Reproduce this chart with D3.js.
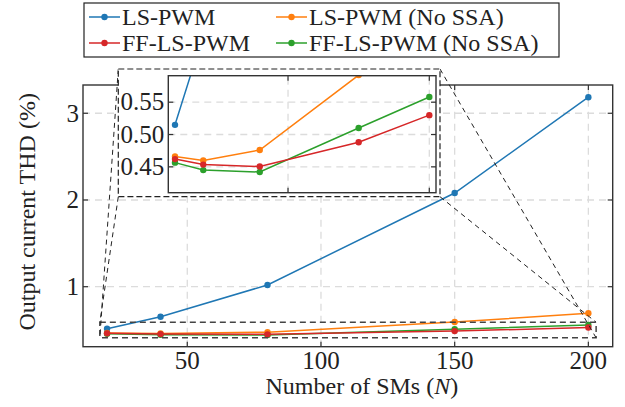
<!DOCTYPE html>
<html>
<head>
<meta charset="utf-8">
<script src="https://cdn.jsdelivr.net/npm/d3@7"></script>
<style>
    body { margin: 0; background: #fff; }
    svg text { font-family: 'Liberation Serif', serif; fill: #222; }
</style>
</head>
<body>
<div id="chart"></div>
<script>

// number of SMs
var smCounts = [20, 40, 80, 150, 200];

// THD (%) per method
var lsPwm = [0.515, 0.654, 1.02, 2.08, 3.185];
var lsPwmNoSsa = [0.466, 0.460, 0.476, 0.592, 0.693];
var ffLsPwm = [0.462, 0.4535, 0.4505, 0.488, 0.530];
var ffLsPwmNoSsa = [0.4565, 0.445, 0.442, 0.510, 0.558];

var seriesNames = ["LS-PWM", "LS-PWM (No SSA)", "FF-LS-PWM", "FF-LS-PWM (No SSA)"];
var seriesColors = ["#1f77b4", "#ff7f0e", "#d62728", "#2ca02c"];

var xTicks = [50, 100, 150, 200];
var yTicks = [1, 2, 3];
var insetXTicks = [100, 200];
var insetYTicks = [0.45, 0.50, 0.55];

var series = [
    {name: seriesNames[0], color: seriesColors[0], values: lsPwm},
    {name: seriesNames[1], color: seriesColors[1], values: lsPwmNoSsa},
    {name: seriesNames[3], color: seriesColors[3], values: ffLsPwmNoSsa},
    {name: seriesNames[2], color: seriesColors[2], values: ffLsPwm}
];

var svg = d3.select("#chart").append("svg")
    .attr("width", 625)
    .attr("height", 407)
    .attr("font-family", "Liberation Serif");

var axisColor = "#333";
var gridColor = "#dcdcdc";
var tickFont = "25px";
var labelFont = "24px";

// draws one set of axes (main or inset)
function drawAxes(g, x, y, xt, yt, showXLabels, fmt) {
    var x0 = x.range()[0], x1 = x.range()[1];
    var y0 = y.range()[0], y1 = y.range()[1];

    // dashed grid
    g.selectAll(".gx").data(xt).enter().append("line")
        .attr("x1", function (d) { return x(d); })
        .attr("x2", function (d) { return x(d); })
        .attr("y1", y0).attr("y2", y1)
        .attr("stroke", gridColor).attr("stroke-width", 1.3)
        .attr("stroke-dasharray", "7,5");
    g.selectAll(".gy").data(yt).enter().append("line")
        .attr("y1", function (d) { return y(d); })
        .attr("y2", function (d) { return y(d); })
        .attr("x1", x0).attr("x2", x1)
        .attr("stroke", gridColor).attr("stroke-width", 1.3)
        .attr("stroke-dasharray", "7,5");

    // inward ticks on all sides
    xt.forEach(function (d) {
        g.append("line").attr("x1", x(d)).attr("x2", x(d)).attr("y1", y0).attr("y2", y0 - 5)
            .attr("stroke", axisColor).attr("stroke-width", 1.2);
        g.append("line").attr("x1", x(d)).attr("x2", x(d)).attr("y1", y1).attr("y2", y1 + 5)
            .attr("stroke", axisColor).attr("stroke-width", 1.2);
    });
    yt.forEach(function (d) {
        g.append("line").attr("y1", y(d)).attr("y2", y(d)).attr("x1", x0).attr("x2", x0 + 5)
            .attr("stroke", axisColor).attr("stroke-width", 1.2);
        g.append("line").attr("y1", y(d)).attr("y2", y(d)).attr("x1", x1).attr("x2", x1 - 5)
            .attr("stroke", axisColor).attr("stroke-width", 1.2);
    });

    // tick labels
    g.selectAll(".ly").data(yt).enter().append("text")
        .attr("x", x0 - 4)
        .attr("y", function (d) { return y(d); })
        .attr("dy", "0.33em")
        .attr("text-anchor", "end")
        .style("font-size", tickFont)
        .text(fmt);
    if (showXLabels) {
        g.selectAll(".lx").data(xt).enter().append("text")
            .attr("x", function (d) { return x(d); })
            .attr("y", y0 + 22)
            .attr("text-anchor", "middle")
            .style("font-size", tickFont)
            .text(function (d) { return d; });
    }
}

function drawSeries(g, x, y, clipId) {
    var line = d3.line()
        .x(function (d, i) { return x(smCounts[i]); })
        .y(function (d) { return y(d); });

    var lines = g.append("g");
    if (clipId) lines.attr("clip-path", "url(#" + clipId + ")");

    series.forEach(function (s) {
        lines.append("path")
            .attr("d", line(s.values))
            .attr("fill", "none")
            .attr("stroke", s.color)
            .attr("stroke-width", 1.5);
        lines.selectAll(null).data(s.values).enter().append("circle")
            .attr("cx", function (d, i) { return x(smCounts[i]); })
            .attr("cy", function (d) { return y(d); })
            .attr("r", 3.2)
            .attr("fill", s.color);
    });
}

function drawFrame(g, x, y) {
    g.append("rect")
        .attr("x", x.range()[0]).attr("y", y.range()[1])
        .attr("width", x.range()[1] - x.range()[0])
        .attr("height", y.range()[0] - y.range()[1])
        .attr("fill", "none")
        .attr("stroke", axisColor)
        .attr("stroke-width", 1.4);
}

// main axes
var x = d3.scaleLinear().domain([11, 209.1]).range([83, 612.7]);
var y = d3.scaleLinear().domain([0.308, 3.326]).range([346.7, 85]);

var main = svg.append("g");
drawAxes(main, x, y, xTicks, yTicks, true, function (d) { return d; });
drawSeries(main, x, y, null);
drawFrame(main, x, y);

// axis titles
svg.append("text")
    .attr("x", (x.range()[0] + x.range()[1]) / 2 + 14)
    .attr("y", 394)
    .attr("text-anchor", "middle")
    .style("font-size", labelFont)
    .html("Number of SMs (<tspan font-style='italic'>N</tspan>)");

svg.append("text")
    .attr("transform", "translate(35," + ((y.range()[0] + y.range()[1]) / 2 - 4) + ") rotate(-90)")
    .attr("text-anchor", "middle")
    .style("font-size", labelFont)
    .text("Output current THD (%)");

// inset scales
var ix = d3.scaleLinear().domain([15.26, 204.74]).range([168.3, 436]);
var iy = d3.scaleLinear().domain([0.41, 0.591]).range([192.7, 75.7]);

// zoomed region marked on the main axes
var zoomX = [17.3, 202.9];
var zoomY = [0.41, 0.59];
var rx0 = x(zoomX[0]), rx1 = x(zoomX[1]);
var ry0 = y(zoomY[1]), ry1 = y(zoomY[0]);

svg.append("rect")
    .attr("x", rx0).attr("y", ry0)
    .attr("width", rx1 - rx0).attr("height", ry1 - ry0)
    .attr("fill", "none")
    .attr("stroke", "#444")
    .attr("stroke-width", 1.5)
    .attr("stroke-dasharray", "6,4");

// inset box (white, dashed border)
var box = {x0: 118.3, y0: 69, x1: 440, y1: 196.7};

var connectors = [
    [box.x0, box.y0, rx0, ry1],
    [box.x0, box.y1, rx0, ry0],
    [box.x1, box.y0, rx1, ry1],
    [box.x1, box.y1, rx1, ry0]
];
svg.selectAll(".conn").data(connectors).enter().append("line")
    .attr("x1", function (d) { return d[0]; })
    .attr("y1", function (d) { return d[1]; })
    .attr("x2", function (d) { return d[2]; })
    .attr("y2", function (d) { return d[3]; })
    .attr("stroke", "#222")
    .attr("stroke-width", 1)
    .attr("stroke-dasharray", "5,4");

svg.append("rect")
    .attr("x", box.x0).attr("y", box.y0)
    .attr("width", box.x1 - box.x0).attr("height", box.y1 - box.y0)
    .attr("fill", "#fff")
    .attr("stroke", "#222")
    .attr("stroke-width", 1.2)
    .attr("stroke-dasharray", "6,3");

svg.append("clipPath").attr("id", "insetClip")
    .append("rect")
    .attr("x", ix.range()[0]).attr("y", iy.range()[1])
    .attr("width", ix.range()[1] - ix.range()[0])
    .attr("height", iy.range()[0] - iy.range()[1]);

var inset = svg.append("g");
drawAxes(inset, ix, iy, insetXTicks, insetYTicks, false, d3.format(".2f"));
drawSeries(inset, ix, iy, "insetClip");
drawFrame(inset, ix, iy);

// legend (two columns, column-major like matplotlib)
var legendItems = [
    {name: seriesNames[0], color: seriesColors[0], col: 0, row: 0},
    {name: seriesNames[2], color: seriesColors[2], col: 0, row: 1},
    {name: seriesNames[1], color: seriesColors[1], col: 1, row: 0},
    {name: seriesNames[3], color: seriesColors[3], col: 1, row: 1}
];
var legend = svg.append("g");
legend.append("rect")
    .attr("x", 84).attr("y", 3)
    .attr("width", 475).attr("height", 54)
    .attr("fill", "#fff")
    .attr("stroke", "#222")
    .attr("stroke-width", 1.2);

var colX = [89, 276];
var rowY = [17, 43];
var items = legend.selectAll(".item").data(legendItems).enter().append("g")
    .attr("transform", function (d) { return "translate(" + colX[d.col] + "," + rowY[d.row] + ")"; });
items.append("line")
    .attr("x1", 0).attr("x2", 31)
    .attr("stroke", function (d) { return d.color; })
    .attr("stroke-width", 1.5);
items.append("circle")
    .attr("cx", 15.5).attr("r", 3.2)
    .attr("fill", function (d) { return d.color; });
items.append("text")
    .attr("x", 33)
    .attr("dy", "0.33em")
    .style("font-size", labelFont)
    .text(function (d) { return d.name; });

</script>
</body>
</html>
